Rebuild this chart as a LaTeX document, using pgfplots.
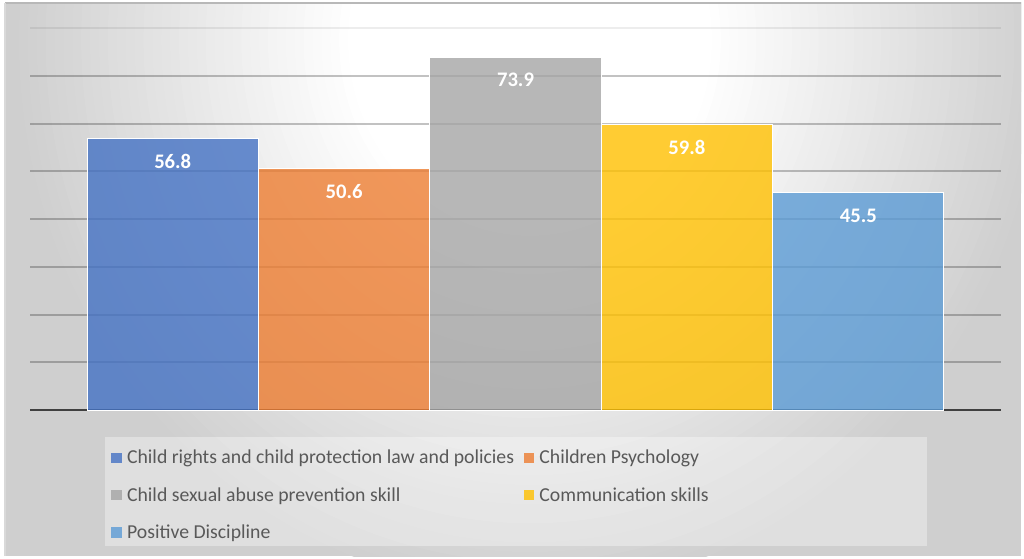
\documentclass[border=0pt]{standalone}
\usepackage{pgfplots}
\pgfplotsset{compat=1.18}
\usepackage{fontspec}
\setmainfont{Carlito}
\definecolor{cBlue}{HTML}{4472C4}
\definecolor{cOrange}{HTML}{ED7D31}
\definecolor{cGray}{HTML}{A5A5A5}
\definecolor{cYellow}{HTML}{FFC000}
\definecolor{cLBlue}{HTML}{5B9BD5}
\begin{document}
\begin{tikzpicture}
\path[use as bounding box] (0,0) rectangle (768pt,418.5pt);
\begin{scope}[yshift=418.5pt, x=0.75pt, y=-0.75pt]
  \fill[white] (0,0) rectangle (1024,558);
  \begin{scope}
    \clip (5,3) rectangle (1021,556);
    \fill[black!19] (5,3) rectangle (1021,556);
    \foreach \k in {1,...,38} {
      \pgfmathsetmacro{\t}{1-\k*0.65/38}
      \pgfmathsetmacro{\g}{19-\k/2}
      \fill[black!\g] (530,40) ellipse [x radius={520*\t}, y radius={560*\t}];
    }
  \end{scope}
  \draw[black!28, line width=1.2pt] (5,3) -- (1021,3);
  \draw[black!15, line width=0.8pt] (5,3) -- (5,556);
  \fill[white, opacity=0.35] (105,437) rectangle (927,546);
\end{scope}
\begin{axis}[
  at={(22.5pt,111pt)}, anchor=south west,
  scale only axis, width=728.25pt, height=286.5pt,
  xmin=-0.5, xmax=0.5, ymin=0, ymax=80,
  ybar,
  axis x line=bottom,
  x axis line style={-, draw=black!75, line width=1.9pt},
  y axis line style={draw=none},
  xtick=\empty,
  ytick={10,20,...,70},
  yticklabels={},
  extra y ticks={80},
  extra y tick labels={},
  extra y tick style={major grid style={draw=black, draw opacity=0.07, line width=1.5pt}},
  major tick length=0pt,
  ymajorgrids,
  major grid style={draw=black, draw opacity=0.24, line width=1.5pt},
  clip=false,
  /pgf/number format/assume math mode=true,
  nodes near coords,
  every node near coord/.append style={font=\bfseries\fontsize{15.5}{18}\selectfont, text=white, anchor=center, yshift=-17pt, opacity=1, fill opacity=1, text opacity=1},
  legend image code/.code={\fill[#1, draw=none] (0pt,-3.9pt) rectangle (7.8pt,3.9pt); \path (9.5pt,0pt);},
  legend style={at={(axis description cs:0.0834,-0.0977)}, anchor=north west, legend columns=2, draw=none, fill=none, inner sep=0pt,
    font=\fontsize{14.8}{17}\selectfont, text=black!65,
    /tikz/every even column/.append style={column sep=5pt},
    row sep=12.1pt},
  legend cell align=left,
]
\addplot[bar shift=0pt, bar width=0.1765, fill=cBlue, fill opacity=0.8, draw=white, line width=0.75pt] coordinates {(-0.353,56.8)};
\addlegendentry{Child rights and child protection law and policies}
\addplot[bar shift=0pt, bar width=0.1765, fill=cOrange, fill opacity=0.8, draw=white, line width=0.75pt] coordinates {(-0.1765,50.6)};
\addlegendentry{Children Psychology}
\addplot[bar shift=0pt, bar width=0.1765, fill=cGray, fill opacity=0.8, draw=white, line width=0.75pt] coordinates {(0,73.9)};
\addlegendentry{Child sexual abuse prevention skill}
\addplot[bar shift=0pt, bar width=0.1765, fill=cYellow, fill opacity=0.8, draw=white, line width=0.75pt] coordinates {(0.1765,59.8)};
\addlegendentry{Communication skills}
\addplot[bar shift=0pt, bar width=0.1765, fill=cLBlue, fill opacity=0.8, draw=white, line width=0.75pt] coordinates {(0.353,45.5)};
\addlegendentry{Positive Discipline}
\end{axis}
\end{tikzpicture}
\end{document}
